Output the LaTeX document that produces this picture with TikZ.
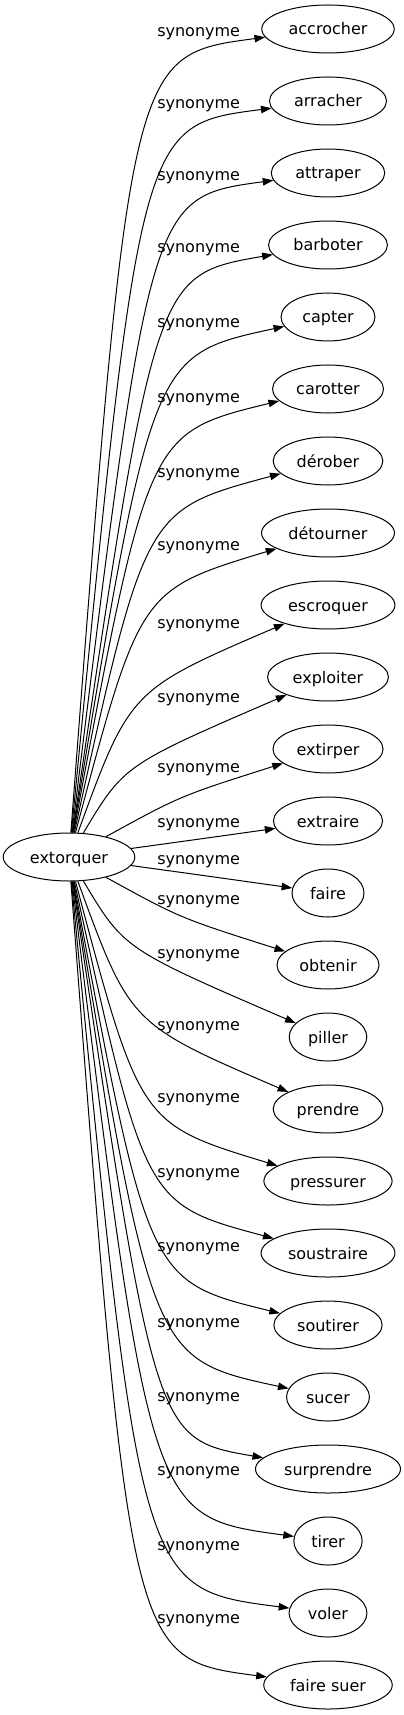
\documentclass[tikz,border=0pt]{standalone}
\usepackage{fontspec}
\setmainfont{DejaVu Sans}
\usetikzlibrary{arrows.meta,shapes.geometric}

\begin{document}
\begin{tikzpicture}[x=0.75pt,y=0.75pt,
  every node/.style={font=\fontsize{12}{14}\selectfont},
  mot/.style={ellipse,draw,line width=0.75pt,inner xsep=5.6pt,inner ysep=0.5pt,
    minimum height=36pt,text height=9.5pt,text depth=0.5pt},
  rel/.style={inner sep=0pt,anchor=base west},
  lien/.style={line width=0.75pt,-{Triangle[length=8pt,width=5.6pt]}}]
\useasboundingbox (0,0) rectangle (403,-1715);
\node[mot] (extorquer) at (69,-857) {extorquer};
% les synonymes, de haut en bas
\foreach \nom/\mot [count=\i from 0] in {accrocher/accrocher,arracher/arracher,
  attraper/attraper,barboter/barboter,capter/capter,carotter/carotter,
  derober/dérober,detourner/détourner,escroquer/escroquer,exploiter/exploiter,
  extirper/extirper,extraire/extraire,faire/faire,obtenir/obtenir,piller/piller,
  prendre/prendre,pressurer/pressurer,soustraire/soustraire,soutirer/soutirer,
  sucer/sucer,surprendre/surprendre,tirer/tirer,voler/voler,fairesuer/faire suer}
  \node[mot] (\nom) at (328,{-29-72*\i}) {\mot};
% liens : point de coude, puis hauteur de l'etiquette
\foreach \nom/\kx/\ky/\ly in {accrocher/130/55/33,arracher/140/125/105,
  attraper/150/197/177,barboter/155/275/249,capter/152/355/324,
  carotter/148/433/399,derober/145/510/474,detourner/140/590/547,
  escroquer/130/690/625,exploiter/124/765/699,extirper/180/796/769,
  extraire/200/839/824,faire/200/875/861,obtenir/180/918/901,
  piller/124/949/955,prendre/130/1024/1027,pressurer/140/1124/1099,
  soustraire/145/1204/1174,soutirer/148/1281/1248,sucer/152/1359/1324,
  surprendre/155/1439/1398,tirer/150/1517/1472,voler/140/1589/1547,
  fairesuer/130/1659/1620}{
  \draw[lien] (extorquer) .. controls (\kx,-\ky) and (\kx,-\ky) .. (\nom);
  \node[rel] (s\nom) at (157,{-\ly-3.5}) {synonyme};
}
\end{tikzpicture}
\end{document}
